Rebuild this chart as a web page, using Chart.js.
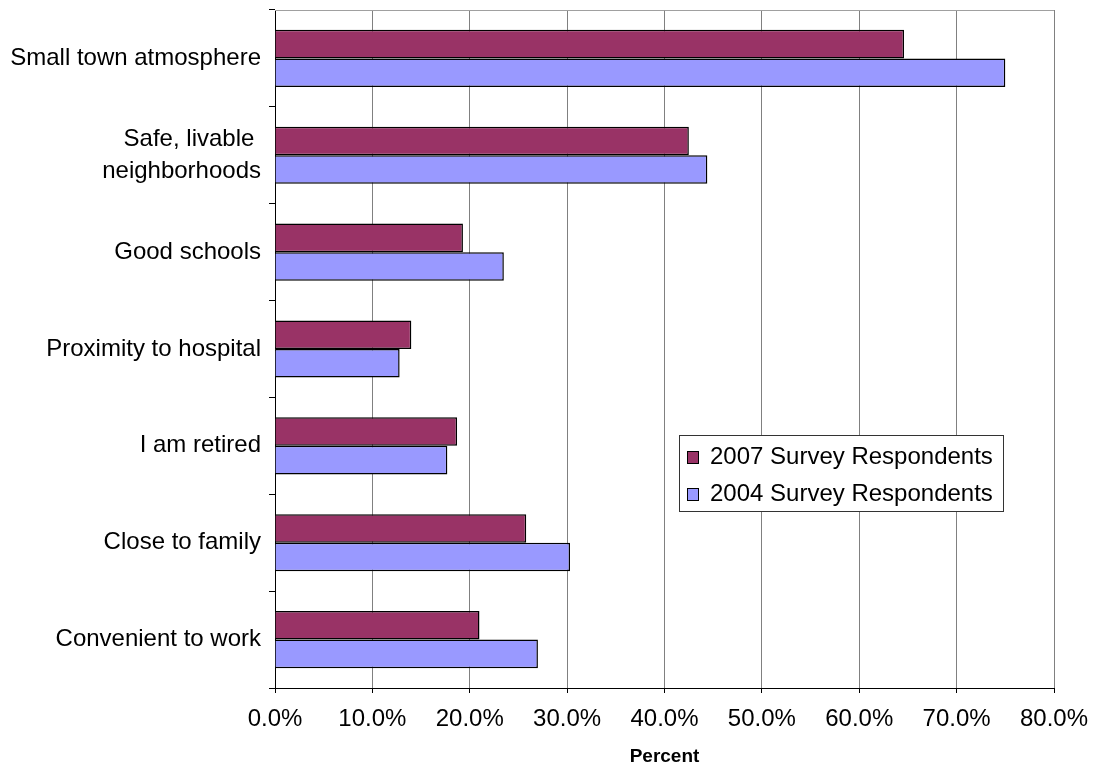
<!DOCTYPE html>
<html>
<head>
<meta charset="utf-8">
<script src="https://cdn.jsdelivr.net/npm/chart.js@4/dist/chart.umd.min.js"></script>
<style>
  html, body { margin: 0; padding: 0; background: #fff; }
  #wrap { width: 1099px; height: 768px; }
</style>
</head>
<body>
<div id="wrap"><canvas id="surveyChart" width="1099" height="768"></canvas></div>
<script>
const categories = [
  "Small town atmosphere",
  ["Safe, livable ", "neighborhoods"],
  "Good schools",
  "Proximity to hospital",
  "I am retired",
  "Close to family",
  "Convenient to work",
];
const respondents2007 = [64.6, 42.5, 19.3, 14.0, 18.7, 25.8, 21.0];
const respondents2004 = [75.0, 44.4, 23.5, 12.8, 17.7, 30.3, 27.0];
const seriesLabels = ["2007 Survey Respondents", "2004 Survey Respondents"];

const FONT = "'Liberation Sans', Arial, sans-serif";

// legend drawn as a boxed panel inside the plot, like the original
const boxedLegend = {
  id: "boxedLegend",
  afterDraw(chart) {
    const ctx = chart.ctx;
    const x = 679, y = 435, w = 324, h = 76;
    ctx.save();
    ctx.fillStyle = "#fff";
    ctx.fillRect(x, y, w, h);
    ctx.strokeStyle = "#333";
    ctx.lineWidth = 1;
    ctx.strokeRect(x + 0.5, y + 0.5, w, h);
    ctx.font = "24px " + FONT;
    ctx.textBaseline = "middle";
    chart.data.datasets.forEach((ds, i) => {
      const cy = y + 22 + i * 37;
      ctx.fillStyle = ds.backgroundColor;
      ctx.fillRect(x + 8, cy - 6, 11, 12);
      ctx.strokeStyle = "#000";
      ctx.strokeRect(x + 8.5, cy - 5.5, 11, 12);
      ctx.fillStyle = "#000";
      ctx.fillText(ds.label, x + 31, cy);
    });
    ctx.restore();
  },
};

// thin grey frame line along the top of the plot area
const topFrame = {
  id: "topFrame",
  beforeDatasetsDraw(chart) {
    const { ctx, chartArea } = chart;
    ctx.save();
    ctx.strokeStyle = "#a0a0a0";
    ctx.lineWidth = 1;
    ctx.beginPath();
    ctx.moveTo(chartArea.left, chartArea.top + 0.5);
    ctx.lineTo(chartArea.right, chartArea.top + 0.5);
    ctx.stroke();
    ctx.restore();
  },
};

const ctx = document.getElementById("surveyChart").getContext("2d");

new Chart(ctx, {
  type: "bar",
  data: {
    labels: categories,
    datasets: [
      {
        label: seriesLabels[0],
        data: respondents2007,
        backgroundColor: "#993366",
        borderColor: "#000",
        borderWidth: 1.5,
        categoryPercentage: 0.59,
        barPercentage: 1.0,
      },
      {
        label: seriesLabels[1],
        data: respondents2004,
        backgroundColor: "#9999ff",
        borderColor: "#000",
        borderWidth: 1.5,
        categoryPercentage: 0.59,
        barPercentage: 1.0,
      },
    ],
  },
  options: {
    indexAxis: "y",
    responsive: false,
    animation: false,
    layout: { padding: { top: 10, right: 45, left: 0, bottom: 0 } },
    plugins: {
      legend: { display: false },
      tooltip: { enabled: false },
    },
    scales: {
      x: {
        min: 0,
        max: 80,
        afterFit: (scale) => {
          scale.height = 80;
          scale.paddingLeft = 0;
          scale.paddingRight = 0;
        },
        ticks: {
          stepSize: 10,
          padding: 12,
          color: "#000",
          font: { family: FONT, size: 24 },
          callback: (v) => v.toFixed(1) + "%",
        },
        grid: { color: "#808080", tickColor: "#000", tickLength: 5 },
        border: { color: "#000", width: 1 },
        title: {
          display: true,
          text: "Percent",
          color: "#000",
          font: { family: FONT, size: 19, weight: "bold" },
          padding: { top: 0, bottom: 0 },
        },
      },
      y: {
        afterFit: (scale) => {
          scale.width = 275;
          scale.paddingTop = 0;
          scale.paddingBottom = 0;
        },
        ticks: {
          padding: 8,
          color: "#000",
          font: { family: FONT, size: 24, lineHeight: 1.3 },
        },
        grid: { drawOnChartArea: false, color: "#000", tickLength: 6 },
        border: { color: "#000", width: 1 },
      },
    },
  },
  plugins: [topFrame, boxedLegend],
});
</script>
</body>
</html>
